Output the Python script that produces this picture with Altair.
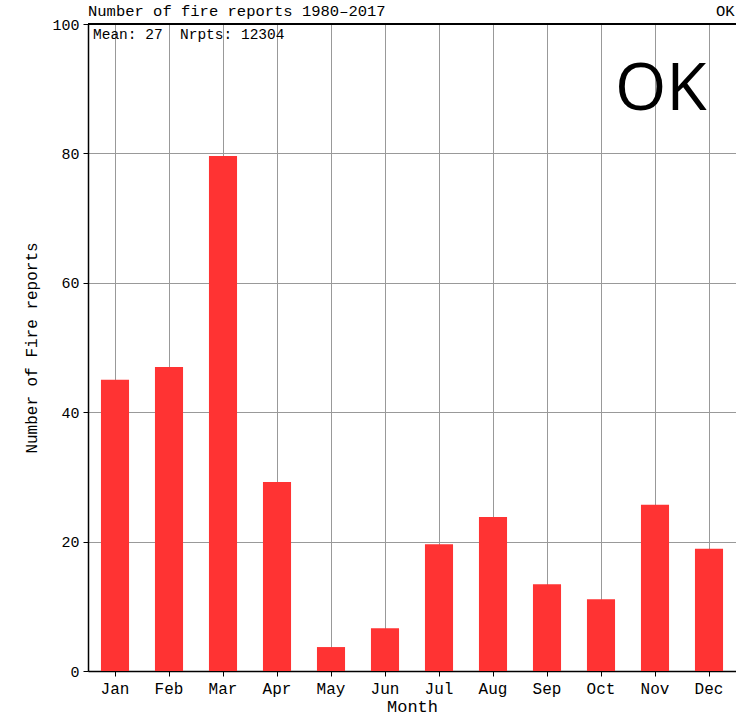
import altair as alt
import pandas as pd

# Monthly fire report counts, Oklahoma 1980-2017
months = ["Jan", "Feb", "Mar", "Apr", "May", "Jun",
          "Jul", "Aug", "Sep", "Oct", "Nov", "Dec"]
reports = [45.0, 47.0, 79.6, 29.2, 3.7, 6.6, 19.6, 23.8, 13.4, 11.1, 25.7, 18.9]
y_ticks = [0, 20, 40, 60, 80, 100]

title_text = "Number of fire reports 1980\u20132017"
stats_text = "Mean: 27\u00a0\u00a0Nrpts: 12304"
state = "OK"

df = pd.DataFrame({"month": months, "reports": reports})

W, H = 648, 647
MONO = "Liberation Mono"

x_enc = alt.X(
    "month:N", sort=months, title="Month",
    scale=alt.Scale(paddingInner=0.48, paddingOuter=0.24),
    axis=alt.Axis(labelAngle=0, labelFont=MONO, labelFontSize=16, labelColor="#000",
                  titleFont=MONO, titleFontSize=17, titleFontWeight="normal",
                  titleColor="#000", titlePadding=2, labelPadding=4,
                  tickSize=5, tickColor="#000", domainColor="#000", domainWidth=1.5,
                  grid=True, gridColor="#999999", gridWidth=1),
)
y_enc = alt.Y(
    "reports:Q", title="Number of Fire reports",
    scale=alt.Scale(domain=[0, 100], nice=False),
    axis=alt.Axis(values=y_ticks, labelFont=MONO, labelFontSize=15, labelColor="#000",
                  titleFont=MONO, titleFontSize=16, titleFontWeight="normal",
                  titleColor="#000", titlePadding=12, labelPadding=4,
                  tickSize=5, tickColor="#000", domainColor="#000", domainWidth=1.5,
                  grid=True, gridColor="#999999", gridWidth=1),
)

bars = alt.Chart(df).mark_bar(color="#ff3333").encode(x=x_enc, y=y_enc)

top_rule = alt.Chart(df).mark_rule(color="#000", strokeWidth=2).encode(
    y=alt.value(0), x=alt.value(0), x2=alt.value(W)
)

def label(text, x, y, size, font=MONO, align="left"):
    return alt.Chart(pd.DataFrame({"t": [text]})).mark_text(
        text=text, align=align, baseline="alphabetic", font=font,
        fontSize=size, color="#000"
    ).encode(x=alt.value(x), y=alt.value(y))

title = label(title_text, 0, -8, 15.5)
state_small = label(state, 628, -8, 15.5)
stats = label(stats_text, 5, 15, 14.5)
state_big = label(state, 527, 86, 66, font="Open Sans")

chart = alt.layer(bars, top_rule, title, state_small, stats, state_big).properties(
    width=W, height=H,
    autosize=alt.AutoSizeParams(type="none"),
    padding={"left": 88, "top": 24, "right": 0, "bottom": 49},
).configure_view(stroke=None).configure(background="white")

chart.save("out.html", embed_options={"renderer": "svg", "actions": False})
